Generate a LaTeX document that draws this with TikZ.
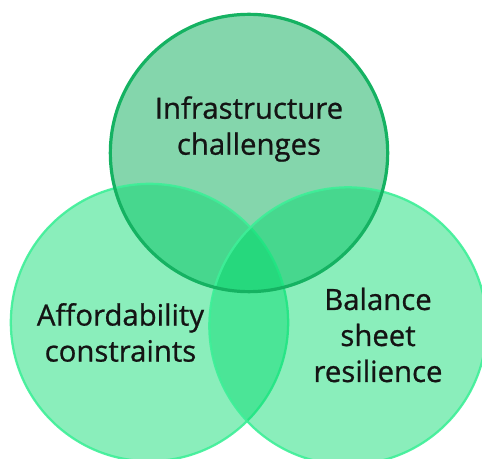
\documentclass[tikz,border=0pt]{standalone}
\usepackage{fontspec}
\setmainfont[FakeBold=0.8]{Open Sans}
\usetikzlibrary{positioning,calc}
\definecolor{vnTop}{HTML}{84D6AC}
\definecolor{vnTopLine}{HTML}{15B262}
\definecolor{vnSide}{HTML}{00DA6B}
\definecolor{vnSideLine}{HTML}{3EEF98}
\tikzset{
    setcircle/.style={circle,minimum size=208pt,inner sep=0pt},
    topset/.style={setcircle,fill=vnTop},
    toprim/.style={setcircle,draw=vnTopLine,line width=2.4pt},
    sideset/.style={setcircle,fill=vnSide,fill opacity=0.46,draw=vnSideLine,draw opacity=0.9,line width=1.7pt},
    setlabel/.style={align=center,font=\fontsize{22}{27}\selectfont,text=black!92}
}
\begin{document}
\begin{tikzpicture}[x=0.75pt,y=-0.75pt]
  \useasboundingbox (0,0) rectangle (482,459);
  % the three sets, side ones laid over the top one
  \node[topset] (infra) at (249,153) {};
  \node[sideset] (afford) at (149.5,322.5) {};
  \node[sideset] (balance) at (348,326) {};
  \node[toprim] (infrarim) at (infra) {};

  % set names
  \node[setlabel] (infratext) at ($(infra)+(0,-24)$) {Infrastructure\\challenges};
  \node[setlabel] (affordtext) at ($(afford)+(-29,10)$) {Affordability\\constraints};
  \node[setlabel] (balancetext) at ($(balance)+(30,9)$) {Balance\\sheet\\resilience};
\end{tikzpicture}
\end{document}
